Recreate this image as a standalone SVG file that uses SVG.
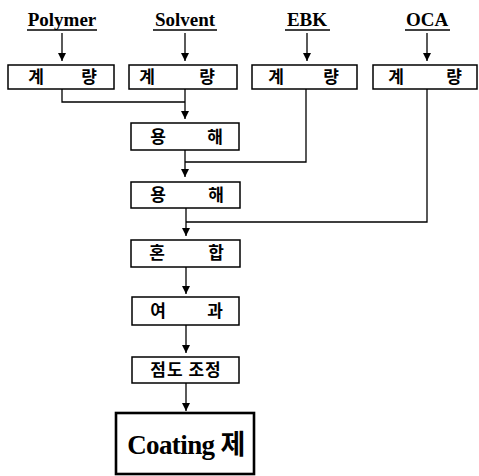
<svg xmlns="http://www.w3.org/2000/svg" width="479" height="476" viewBox="0 0 479 476">
<defs>
<marker id="ah" viewBox="0 0 8 10" refX="8" refY="5" markerWidth="8" markerHeight="10" markerUnits="userSpaceOnUse" orient="auto">
<path d="M0,1 L8,5 L0,9 z" fill="#000"/>
</marker>
</defs>
<style>
.hdr{font-family:"Liberation Serif","Times New Roman",serif;font-weight:bold;font-size:19px;fill:#000;text-anchor:middle}
.ul{stroke:#000;stroke-width:1.3}
.box{fill:#fff;stroke:#000;stroke-width:1.5}
.big{fill:#fff;stroke:#000;stroke-width:2.6}
.k{font-family:"Noto Sans CJK KR","Noto Sans",sans-serif;font-weight:bold;font-size:17px;fill:#000;text-anchor:middle}
.ct{font-family:"Liberation Serif","Times New Roman","Noto Sans CJK KR",serif;font-weight:bold;font-size:27px;letter-spacing:-0.6px;fill:#000;text-anchor:middle}
.ln{fill:none;stroke:#000;stroke-width:1.3}
.ar{fill:none;stroke:#000;stroke-width:1.3;marker-end:url(#ah)}
</style>
<g id="connectors">
<line class="ar" x1="62" y1="33" x2="62" y2="61"/>
<line class="ar" x1="185" y1="33" x2="185" y2="61"/>
<line class="ar" x1="307" y1="33" x2="307" y2="61"/>
<line class="ar" x1="427" y1="33" x2="427" y2="61"/>
<polyline class="ln" points="62,89 62,102 185,102"/>
<line class="ar" x1="185" y1="89" x2="185" y2="119"/>
<polyline class="ln" points="306,89 306,162 185,162"/>
<line class="ar" x1="185" y1="150" x2="185" y2="177"/>
<polyline class="ln" points="427,89 427,222 186,222"/>
<line class="ar" x1="186" y1="208" x2="186" y2="236"/>
<line class="ar" x1="186" y1="267" x2="186" y2="294"/>
<line class="ar" x1="186" y1="325" x2="186" y2="353"/>
<line class="ar" x1="186" y1="383" x2="186" y2="411"/>
</g>
<g id="h-polymer">
<text class="hdr" x="62" y="26">Polymer</text>
<line class="ul" x1="27" y1="30" x2="97" y2="30"/>
</g>
<g id="h-solvent">
<text class="hdr" x="185" y="26">Solvent</text>
<line class="ul" x1="153" y1="30" x2="217" y2="30"/>
</g>
<g id="h-ebk">
<text class="hdr" x="307" y="26">EBK</text>
<line class="ul" x1="285" y1="30" x2="330" y2="30"/>
</g>
<g id="h-oca">
<text class="hdr" x="427" y="26">OCA</text>
<line class="ul" x1="405" y1="30" x2="450" y2="30"/>
</g>
<g id="n-weigh1">
<rect class="box" x="8" y="65" width="106" height="24"/>
<text class="k" x="36" y="83">계</text><text class="k" x="89" y="83">량</text>
</g>
<g id="n-weigh2">
<rect class="box" x="129" y="65" width="108" height="24"/>
<text class="k" x="147" y="83">계</text><text class="k" x="207" y="83">량</text>
</g>
<g id="n-weigh3">
<rect class="box" x="252" y="65" width="105" height="24"/>
<text class="k" x="276" y="83">계</text><text class="k" x="331" y="83">량</text>
</g>
<g id="n-weigh4">
<rect class="box" x="373" y="65" width="104" height="24"/>
<text class="k" x="396" y="83">계</text><text class="k" x="454" y="83">량</text>
</g>
<g id="n-dissolve1">
<rect class="box" x="131" y="123" width="108" height="27"/>
<text class="k" x="158" y="143">용</text><text class="k" x="215" y="143">해</text>
</g>
<g id="n-dissolve2">
<rect class="box" x="131" y="182" width="109" height="26"/>
<text class="k" x="158" y="201">용</text><text class="k" x="216" y="201">해</text>
</g>
<g id="n-mix">
<rect class="box" x="131" y="240" width="109" height="27"/>
<text class="k" x="157" y="259">혼</text><text class="k" x="216" y="259">합</text>
</g>
<g id="n-filter">
<rect class="box" x="132" y="297" width="107" height="28"/>
<text class="k" x="158" y="317">여</text><text class="k" x="215" y="317">과</text>
</g>
<g id="n-visc">
<rect class="box" x="132" y="357" width="107" height="26"/>
<text class="k" x="186" y="376" letter-spacing="1">점도 조정</text>
</g>
<g id="n-coating">
<rect class="big" x="116" y="413" width="138" height="61"/>
<text class="ct" x="186" y="454">Coating 제</text>
</g>
</svg>
